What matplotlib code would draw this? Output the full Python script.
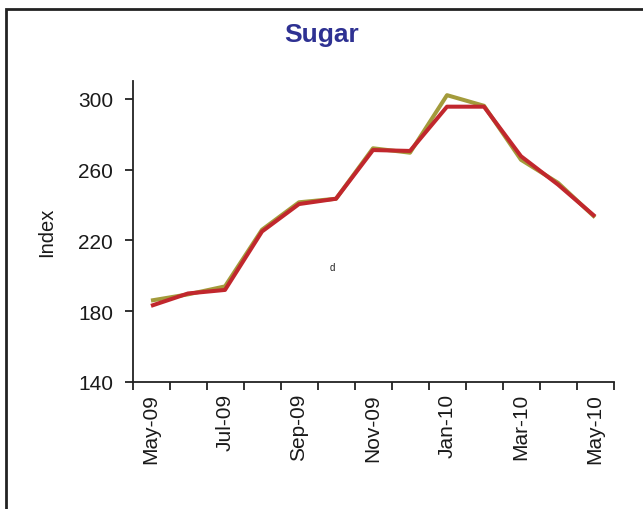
import matplotlib
matplotlib.use("Agg")
import matplotlib.pyplot as plt
from matplotlib.patches import Rectangle

plt.rcParams['font.family'] = ['Liberation Sans', 'DejaVu Sans']

months = ["May-09", "Jun-09", "Jul-09", "Aug-09", "Sep-09", "Oct-09", "Nov-09",
          "Dec-09", "Jan-10", "Feb-10", "Mar-10", "Apr-10", "May-10"]
series_olive = [186, 189.5, 194, 226, 241.5, 243.5, 272, 269.5, 302, 296, 265.5, 252.5, 233]
series_red = [183, 190, 192, 225, 240.5, 243.5, 271, 270.5, 295.5, 295.5, 267.5, 251.5, 233.5]
yticks = [140, 180, 220, 260, 300]

W, H = 643, 510
fig = plt.figure(figsize=(W / 100, H / 100), dpi=100)
fig.patch.set_facecolor('white')

# outer frame (cut off at right/bottom as in reference)
fig.patches.append(Rectangle((6 / W, -0.1), 1.2, 1 - 10 / H + 0.1, transform=fig.transFigure,
                             fill=False, edgecolor='#222222', linewidth=2.0))

ax = fig.add_axes([132.5 / W, 1 - 383 / H, (613.5 - 132.5) / W, (383 - 82) / H])
x = list(range(len(months)))
ax.plot(x, series_olive, color='#A39B3B', linewidth=2.9, solid_capstyle='butt')
ax.plot(x, series_red, color='#C1272D', linewidth=2.9, solid_capstyle='butt')

ax.set_xlim(-0.5, len(months) - 0.5)
ax.set_ylim(140, 310)
ax.set_yticks(yticks)
ax.set_yticklabels([str(v) for v in yticks])

ax.set_xticks([i - 0.5 for i in range(len(months) + 1)])
ax.set_xticklabels([])
ax.set_xticks(x[::2], minor=True)
ax.set_xticklabels(months[::2], minor=True, rotation=90)
ax.tick_params(axis='x', which='minor', length=0, pad=8, labelsize=15, colors='#1a1a1a')
ax.tick_params(axis='x', which='major', length=6, width=1.3, direction='out', color='#222222')
ax.tick_params(axis='y', which='major', length=6, width=1.3, direction='out', labelsize=15,
               color='#222222', labelcolor='#1a1a1a', pad=8)

for s in ['top', 'right']:
    ax.spines[s].set_visible(False)
for s in ['left', 'bottom']:
    ax.spines[s].set_linewidth(1.3)
    ax.spines[s].set_color('#222222')

ax.set_ylabel('Index', fontsize=14.5, color='#1a1a1a', labelpad=16)
ax.text(4.9, 205, 'd', fontsize=7, color='#222222', ha='center', va='center')

fig.text(0.5, 1 - 35 / H, 'Sugar', fontsize=19, fontweight='bold', color='#2E3192',
         ha='center', va='center')

fig.savefig('out.png', dpi=100, facecolor='white')
